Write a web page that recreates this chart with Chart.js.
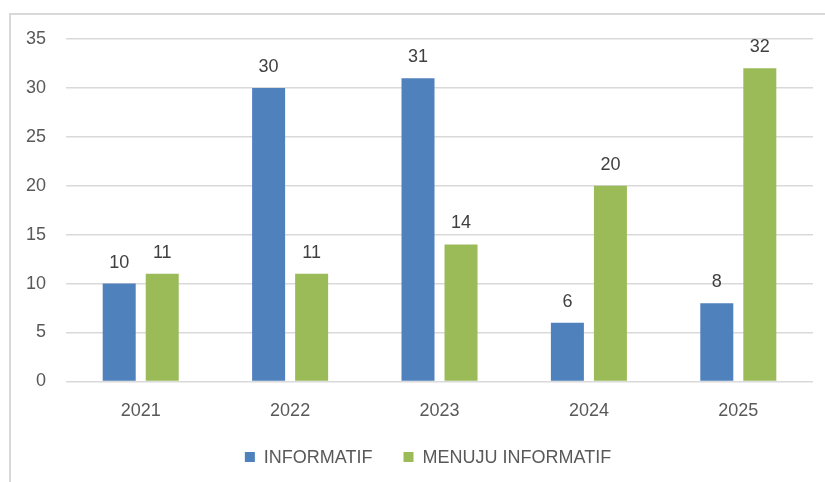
<!DOCTYPE html>
<html>
<head>
<meta charset="utf-8">
<script src="https://cdn.jsdelivr.net/npm/chart.js@4"></script>
<style>
  html, body { margin: 0; padding: 0; background: #fff; }
  #wrap { position: relative; width: 825px; height: 482px; overflow: hidden; }
  #frame { position: absolute; left: 9px; top: 13px; width: 900px; height: 600px;
           border-left: 2px solid #d9d9d9; border-top: 2px solid #d9d9d9; }
  canvas { position: absolute; left: 0; top: 0; }
</style>
</head>
<body>
<div id="wrap">
  <div id="frame"></div>
  <canvas id="chart" width="825" height="482"></canvas>
</div>
<script>
const years = ['2021', '2022', '2023', '2024', '2025'];
const informatif = [10, 30, 31, 6, 8];
const menujuInformatif = [11, 11, 14, 20, 32];
const yTicks = [0, 5, 10, 15, 20, 25, 30, 35];

const fontFamily = '"Liberation Sans", Arial, sans-serif';

// value labels above each bar
const barLabels = {
    id: 'barLabels',
    afterDatasetsDraw(chart) {
        const ctx = chart.ctx;
        ctx.save();
        ctx.font = '18px ' + fontFamily;
        ctx.fillStyle = '#404040';
        ctx.textAlign = 'center';
        ctx.textBaseline = 'middle';
        chart.data.datasets.forEach((ds, i) => {
            chart.getDatasetMeta(i).data.forEach((bar, j) => {
                ctx.fillText(ds.data[j], bar.x, bar.y - 21);
            });
        });
        ctx.restore();
    }
};

// legend drawn by hand so the spacing matches the original
const bottomLegend = {
    id: 'bottomLegend',
    afterDraw(chart) {
        const ctx = chart.ctx;
        ctx.save();
        ctx.font = '18px ' + fontFamily;
        ctx.textBaseline = 'middle';
        const box = 10, gap = 9, spacing = 31, y = 457, center = 428;
        const items = chart.data.datasets.map(ds => ({
            text: ds.label, color: ds.backgroundColor, w: ctx.measureText(ds.label).width
        }));
        let total = 0;
        items.forEach((it, i) => { total += box + gap + it.w + (i ? spacing : 0); });
        let x = center - total / 2;
        items.forEach(it => {
            ctx.fillStyle = it.color;
            ctx.fillRect(x, y - box / 2, box, box);
            ctx.fillStyle = '#595959';
            ctx.fillText(it.text, x + box + gap, y + 1);
            x += box + gap + it.w + spacing;
        });
        ctx.restore();
    }
};

const ctx = document.getElementById('chart').getContext('2d');
new Chart(ctx, {
    type: 'bar',
    data: {
        labels: years,
        datasets: [
            { label: 'INFORMATIF', data: informatif, backgroundColor: '#4F81BD' },
            { label: 'MENUJU INFORMATIF', data: menujuInformatif, backgroundColor: '#9BBB59' }
        ]
    },
    options: {
        responsive: false,
        animation: false,
        layout: { padding: { left: 6, right: 12, top: 39, bottom: 49 } },
        datasets: { bar: { categoryPercentage: 0.576, barPercentage: 0.767 } },
        scales: {
            x: {
                grid: { display: false },
                border: { display: false },
                ticks: { color: '#595959', font: { size: 18, family: fontFamily }, padding: 11 }
            },
            y: {
                min: 0,
                max: 35,
                afterBuildTicks(axis) { axis.ticks = yTicks.map(v => ({ value: v })); },
                grid: { color: '#d9d9d9', lineWidth: 1.5, drawTicks: false },
                border: { display: false },
                ticks: { color: '#595959', font: { size: 18, family: fontFamily }, padding: 20 }
            }
        },
        plugins: {
            tooltip: { enabled: false },
            legend: { display: false }
        }
    },
    plugins: [barLabels, bottomLegend]
});
</script>
</body>
</html>
